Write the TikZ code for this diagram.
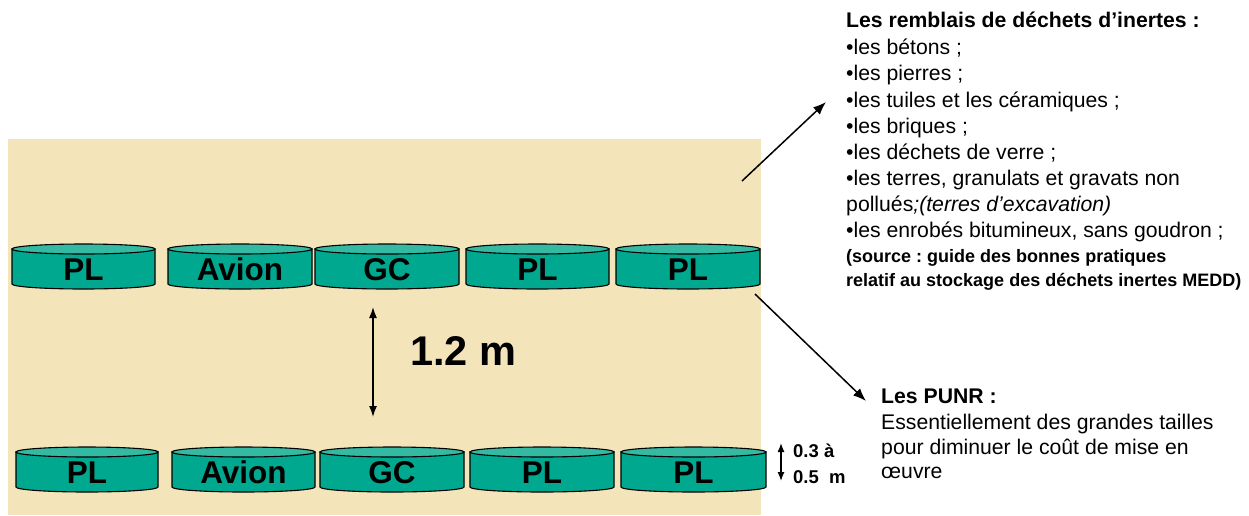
\documentclass[tikz,border=0pt]{standalone}
\usepackage{fontspec}
\setmainfont{Liberation Sans}
\frenchspacing
\usetikzlibrary{arrows.meta}
\definecolor{bgbeige}{RGB}{244,228,186}
\definecolor{drumsidecol}{RGB}{0,168,143}
\definecolor{drumtopcol}{RGB}{52,186,162}
\tikzset{
  drumside/.style={fill=drumsidecol, draw=black, line width=1.1pt},
  drumtop/.style={fill=drumtopcol, draw=black, line width=1.1pt},
  drumlabel/.style={inner sep=0pt, anchor=base, font=\fontsize{31.5}{36}\selectfont\bfseries},
  txt/.style={inner sep=0pt, anchor=base west, font=\fontsize{21.2}{25}\selectfont},
  txtb/.style={inner sep=0pt, anchor=base west, font=\fontsize{21.2}{25}\selectfont\bfseries},
  txts/.style={inner sep=0pt, anchor=base west, font=\fontsize{18}{22}\selectfont\bfseries},
  arr/.style={line width=1.5pt, -{Latex[length=13pt,width=10pt]}},
  darr/.style={line width=1.5pt, {Latex[length=11pt,width=8pt]}-{Latex[length=11pt,width=8pt]}},
}
\newcommand\drum[6]{%
  \pgfmathsetmacro\dcx{(#2+#3)/2}%
  \pgfmathsetmacro\drx{(#3-#2)/2}%
  \pgfmathsetmacro\dyt{#4+5}%
  \pgfmathsetmacro\dyb{#5-5}%
  \pgfmathsetmacro\dyl{#5-8.5}%
  \filldraw[drumside] (#2,\dyt) -- (#2,\dyb) arc[start angle=180,end angle=360,x radius=\drx pt,y radius=5pt] -- (#3,\dyt) -- cycle;
  \filldraw[drumtop] (\dcx,\dyt) ellipse[x radius=\drx pt, y radius=5pt];
  \node[drumlabel] (#1) at (\dcx,\dyl) {#6};
}
\begin{document}
\begin{tikzpicture}[x=1pt,y=-1pt]
\useasboundingbox (0,0) rectangle (1249,515);
\fill[bgbeige] (8,139) rectangle (761,515);
% top row
\drum{t1}{12}{155}{244}{289}{PL}
\drum{t2}{168}{312}{244}{289}{Avion}
\drum{t3}{315}{459}{244}{289}{GC}
\drum{t4}{466}{609}{244}{289}{PL}
\drum{t5}{616}{760}{244}{289}{PL}
% bottom row
\drum{b1}{16}{158}{447}{492}{PL}
\drum{b2}{172}{315}{447}{492}{Avion}
\drum{b3}{320}{464}{447}{492}{GC}
\drum{b4}{470}{614}{447}{492}{PL}
\drum{b5}{621}{766}{447}{492}{PL}
% spacing arrow
\coordinate (sa) at (373,307);
\coordinate (sb) at (373,417);
\draw[darr] (sa) -- (sb);
\node[inner sep=0pt, anchor=base west, font=\fontsize{41.5}{48}\selectfont\bfseries] (dist) at (410,365) {1.2 m};
% thickness arrow
\coordinate (ha) at (781,443);
\coordinate (hb) at (781,481);
\draw[line width=1.3pt, {Latex[length=9pt,width=7pt]}-{Latex[length=9pt,width=7pt]}] (ha) -- (hb);
\node[inner sep=0pt, anchor=base west, font=\fontsize{18.5}{22}\selectfont\bfseries] (h1) at (793,457) {0.3 à};
\node[inner sep=0pt, anchor=base west, font=\fontsize{18.5}{22}\selectfont\bfseries] (h2) at (793,483) {0.5\ \ m};
% right text block
\node[txtb] (r0) at (846,27) {Les remblais de déchets d’inertes :};
\node[txt] (r1) at (846,54) {•les bétons ;};
\node[txt] (r2) at (846,80) {•les pierres ;};
\node[txt] (r3) at (846,107) {•les tuiles et les céramiques ;};
\node[txt] (r4) at (846,133) {•les briques ;};
\node[txt] (r5) at (846,159) {•les déchets de verre ;};
\node[txt] (r6) at (846,185) {•les terres, granulats et gravats non};
\node[txt] (r7) at (846,211) {pollués\textit{;(terres d’excavation)}};
\node[txt] (r8) at (846,237) {•les enrobés bitumineux, sans goudron ;};
\node[txts] (r9) at (846,262) {(source : guide des bonnes pratiques};
\node[txts] (r10) at (846,286) {relatif au stockage des déchets inertes MEDD)};
% PUNR block
\node[txtb] (p0) at (881,403) {Les PUNR :};
\node[txt] (p1) at (881,429) {Essentiellement des grandes tailles};
\node[txt] (p2) at (881,454) {pour diminuer le coût de mise en};
\node[txt] (p3) at (881,478) {œuvre};
% arrows to texts
\coordinate (a1s) at (742,181);
\coordinate (a1e) at (826,102);
\draw[arr] (a1s) -- (a1e);
\coordinate (a2s) at (755,294);
\coordinate (a2e) at (866,401);
\draw[arr] (a2s) -- (a2e);
\end{tikzpicture}
\end{document}
